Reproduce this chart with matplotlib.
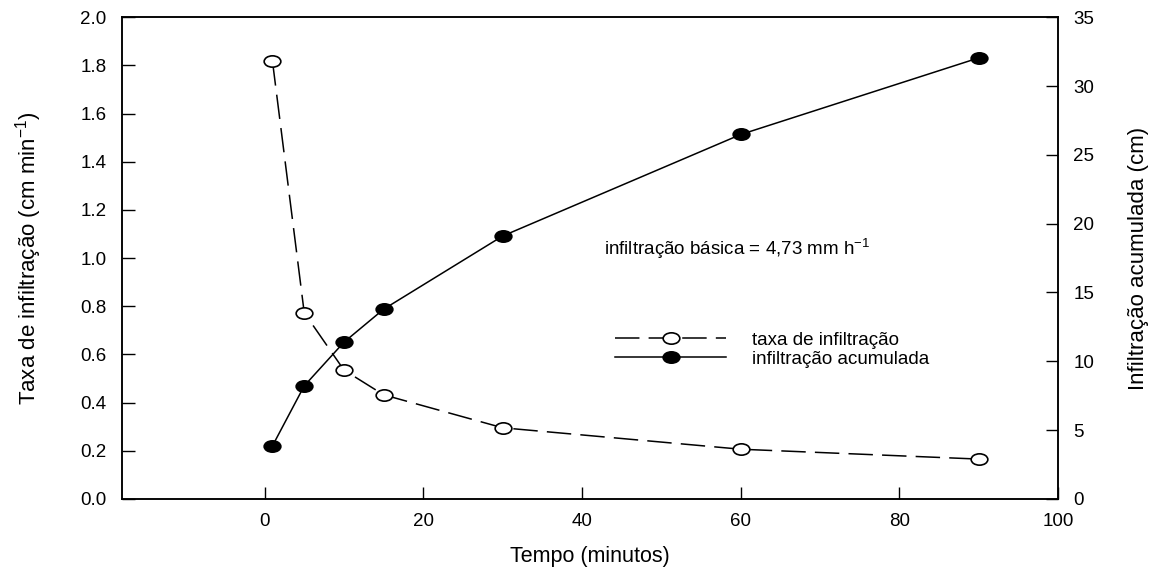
import numpy as np
import matplotlib
matplotlib.use("Agg")
import matplotlib.pyplot as plt
from matplotlib.path import Path

plt.rcParams["font.family"] = ["Liberation Sans", "DejaVu Sans"]
plt.rcParams["mathtext.default"] = "regular"

# dados
tempo = [1, 5, 10, 15, 30, 60, 90]
taxa = [1.817, 0.773, 0.535, 0.432, 0.295, 0.206, 0.165]
acumulada = [3.85, 8.21, 11.38, 13.78, 19.1, 26.48, 32.05]

xticks = [0, 20, 40, 60, 80, 100]
yticks_esq = [0.0, 0.2, 0.4, 0.6, 0.8, 1.0, 1.2, 1.4, 1.6, 1.8, 2.0]
yticks_dir = [0, 5, 10, 15, 20, 25, 30, 35]

# marcador elíptico (círculos achatados como no original)
circ = Path.unit_circle()
elipse = Path(circ.vertices * np.array([1.0, 0.68]), circ.codes)

fs = 13.5
fig = plt.figure(figsize=(11.59, 5.76), dpi=100)
ax1 = fig.add_axes([0.105, 0.134, 0.808, 0.836])
ax2 = ax1.twinx()

l1, = ax1.plot(tempo, taxa, color="black", lw=1.1, dashes=(16, 6),
               marker=elipse, ms=12, mfc="white", mec="black", mew=1.2,
               label="taxa de infiltração")
l2, = ax2.plot(tempo, acumulada, color="black", lw=1.1,
               marker=elipse, ms=12, mfc="black", mec="black", mew=1.2,
               label="infiltração acumulada")

ax1.set_xlim(-18, 100)
ax1.set_ylim(0, 2.0)
ax2.set_ylim(0, 35)
ax1.set_xticks(xticks)
ax1.set_yticks(yticks_esq)
ax1.set_yticklabels([f"{v:.1f}" for v in yticks_esq])
ax2.set_yticks(yticks_dir)

ax1.tick_params(axis="both", direction="in", length=9, width=1, labelsize=fs)
ax1.tick_params(axis="y", pad=11)
ax1.tick_params(axis="x", pad=10)
ax2.tick_params(axis="y", direction="in", length=9, width=1, labelsize=fs, pad=11)
for ax in (ax1, ax2):
    for s in ax.spines.values():
        s.set_linewidth(1.1)

ax1.set_xlabel("Tempo (minutos)", fontsize=15.5, labelpad=12)
ax1.set_ylabel("Taxa de infiltração (cm min$^{-1}$)", fontsize=16, labelpad=26)
ax2.set_ylabel("Infiltração acumulada (cm)", fontsize=16, labelpad=24)

ax1.text(42.8, 1.037, "infiltração básica = 4,73 mm h$^{-1}$",
         fontsize=fs, va="center", ha="left")

ax2.legend([l1, l2], [l1.get_label(), l2.get_label()], loc="upper left",
           bbox_to_anchor=(0.527, 0.3475), frameon=False, fontsize=fs,
           numpoints=1, handlelength=5.9, handletextpad=1.4,
           borderpad=0, borderaxespad=0, labelspacing=0.12)

fig.savefig("out.png", dpi=100)
plt.close(fig)
